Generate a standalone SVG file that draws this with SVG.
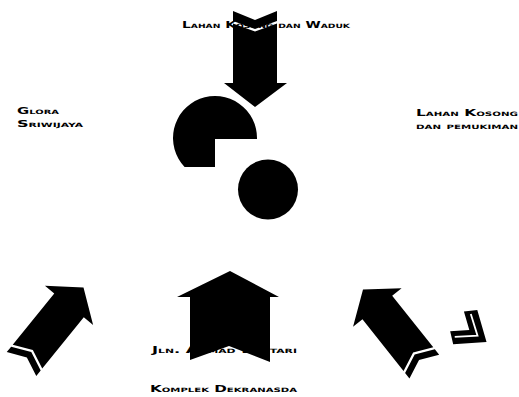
<svg xmlns="http://www.w3.org/2000/svg" xmlns:xlink="http://www.w3.org/1999/xlink" width="519" height="397" viewBox="0 0 519 397">
<style>
.lbl{font-family:"DejaVu Sans","Liberation Sans",sans-serif;font-weight:bold;font-size:9px;font-variant:small-caps;fill:#000}
.blk{fill:#000}
</style>
<defs>
<g id="diagArrow">
<path class="blk" d="M0,0 L31,23 L19,23 L19,89 L0,80.5 L-19,89 L-19,23 L-31,23 Z"/>
<path class="blk" d="M-19,91.5 L0,83 L19,91.5 L19,98.5 L0,90 L-19,98.5 Z"/>
</g>
</defs>
<rect width="519" height="397" fill="#fff"/>
<g id="label-waduk"><text class="lbl" x="182" y="28" textLength="168" lengthAdjust="spacingAndGlyphs">Lahan Kosong dan Waduk</text></g>
<g id="label-glora"><text class="lbl" x="17" y="114" textLength="42" lengthAdjust="spacingAndGlyphs">Glora</text><text class="lbl" x="17" y="127" textLength="66" lengthAdjust="spacingAndGlyphs">Sriwijaya</text></g>
<g id="label-pemukiman"><text class="lbl" x="416" y="116" textLength="102" lengthAdjust="spacingAndGlyphs">Lahan Kosong</text><text class="lbl" x="416" y="129" textLength="102" lengthAdjust="spacingAndGlyphs">dan pemukiman</text></g>
<g id="label-jln"><text class="lbl" x="152" y="353" textLength="145" lengthAdjust="spacingAndGlyphs">Jln. Ahmad Bastari</text></g>
<g id="label-dekranasda"><text class="lbl" x="150" y="392" textLength="147" lengthAdjust="spacingAndGlyphs">Komplek Dekranasda</text></g>
<g id="site">
<path class="blk" d="M215,139 H257 A42,42 0 1 0 184.6,167 H215 Z"/>
<circle class="blk" cx="268" cy="189.5" r="30"/>
</g>
<g id="connectors">
<g id="arrow-top">
<path class="blk" d="M255,107 L287,83 L277,83 L277,23.5 L255,31.5 L233,23.5 L233,83 L224,83 Z"/>
<path class="blk" d="M233,21 L255,29 L277,21 L277,11 L255,20 L233,11 Z"/>
</g>
<g id="arrow-bottom"><path class="blk" d="M230,271 L279,297 L270,297 L270,362 L229,346 L190,360 L190,297 L177,297 Z"/></g>
<use id="arrow-left" xlink:href="#diagArrow" transform="translate(83.5,287.5) rotate(39)"/>
<use id="arrow-right" xlink:href="#diagArrow" transform="translate(363,289.5) rotate(-38.5)"/>
</g>
<g id="icon" transform="translate(474,332) rotate(35)">
<path class="blk" d="M-10,-20 L16,1 L-10,22 L-20,13 L-5,1 L-20,-11 Z"/>
<path d="M-13,-13 L5,1 L-13,15" fill="none" stroke="#fff" stroke-width="1.8"/>
</g>
</svg>
